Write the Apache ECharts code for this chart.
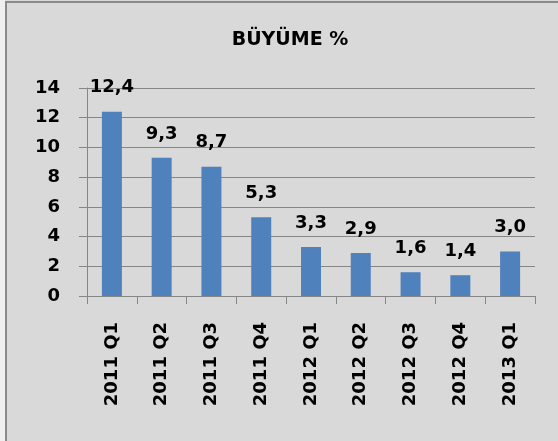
<!DOCTYPE html>
<html>
<head>
<meta charset="utf-8">
<script src="https://cdn.jsdelivr.net/npm/echarts@6/dist/echarts.min.js"></script>
<style>
	html,body{margin:0;padding:0;background:#eeeeee;}
	#chart{width:558px;height:441px;}
</style>
</head>
<body>
<div id="chart"></div>
<script>
	// çeyrekler
	var categories = ['2011 Q1','2011 Q2','2011 Q3','2011 Q4','2012 Q1','2012 Q2','2012 Q3','2012 Q4','2013 Q1']
	// büyüme değerleri
	var growth = [12.4, 9.3, 8.7, 5.3, 3.3, 2.9, 1.6, 1.4, 3.0]
	var yTicks = [0, 2, 4, 6, 8, 10, 12, 14]

	var font = '"DejaVu Sans", sans-serif'
	var chart = echarts.init(document.getElementById('chart'), null, {renderer: 'canvas'})
	chart.setOption({
		backgroundColor: '#d9d9d9',
		animation: false,
		title: {
			text: 'BÜYÜME %',
			left: 285,
			top: 26,
			textAlign: 'center',
			textStyle: {color: '#000', fontSize: 19, fontWeight: 'bold', fontFamily: font}
		},
		// çerçeve
		graphic: [
			{type: 'rect', shape: {x: 0, y: 0, width: 5, height: 441}, style: {fill: '#efefef'}, silent: true},
			{type: 'line', shape: {x1: 6, y1: 2, x2: 6, y2: 441}, style: {stroke: '#8a8a8a', lineWidth: 2}, silent: true},
			{type: 'line', shape: {x1: 5, y1: 2, x2: 558, y2: 2}, style: {stroke: '#8a8a8a', lineWidth: 2}, silent: true}
		],
		grid: {left: 87, right: 23, top: 88, bottom: 145, containLabel: false, outerBoundsMode: 'none'},
		xAxis: {
			type: 'category',
			data: categories,
			axisLine: {lineStyle: {color: '#868686', width: 1}},
			axisTick: {show: true, length: 8, inside: false, lineStyle: {color: '#868686'}},
			axisLabel: {
				rotate: 90,
				margin: 26,
				interval: 0,
				color: '#000',
				fontSize: 18,
				fontWeight: 'bold',
				fontFamily: font
			}
		},
		yAxis: {
			type: 'value',
			min: yTicks[0],
			max: yTicks[yTicks.length - 1],
			interval: 2,
			axisLine: {show: true, lineStyle: {color: '#868686'}},
			axisTick: {show: true, length: 8, lineStyle: {color: '#868686'}},
			axisLabel: {margin: 27, align: 'right', color: '#000', fontSize: 18, fontWeight: 'bold', fontFamily: font},
			splitLine: {lineStyle: {color: '#868686', width: 1}}
		},
		series: [{
			type: 'bar',
			data: growth,
			barWidth: 20,
			itemStyle: {color: '#4f81bd'},
			label: {
				show: true,
				position: 'top',
				distance: 15,
				color: '#000',
				fontSize: 18,
				fontWeight: 'bold',
				fontFamily: font,
				formatter: function (p) {
					return p.value.toFixed(1).replace('.', ',')
				}
			}
		}]
	})
</script>
</body>
</html>
